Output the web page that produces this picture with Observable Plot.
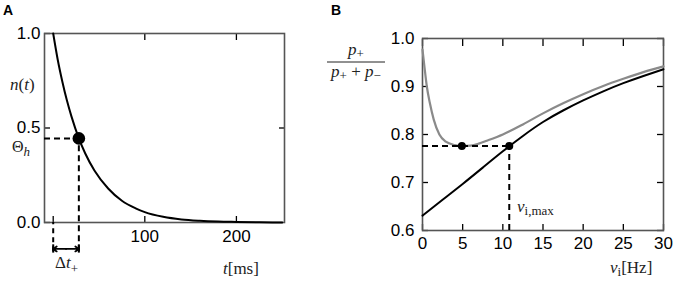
<!DOCTYPE html>
<html><head><meta charset="utf-8">
<script src="https://cdn.jsdelivr.net/npm/d3@7"></script>
<script src="https://cdn.jsdelivr.net/npm/@observablehq/plot@0.6"></script>
<style>
body{margin:0;background:#fff;}
#wrap{position:relative;width:673px;height:285px;overflow:hidden;background:#fff;}
#a{position:absolute;left:0;top:0;}
#b{position:absolute;left:320px;top:0;}
svg{overflow:visible;}
</style></head>
<body><div id="wrap"><div id="a"></div><div id="b"></div></div>
<script>
// ---------- Panel A data ----------
const tDomain = [-9.5, 252.5];
const tTicks = [0, 100, 200];
const nTicks = [0, 0.5, 1];
const tValues = [0, 5, 10, 15, 20, 28, 35, 45, 60, 75, 90, 100, 120, 140, 160, 180, 200, 225, 250];
const nValues = [1.0, 0.86, 0.745, 0.645, 0.56, 0.445, 0.365, 0.275, 0.18, 0.115, 0.075, 0.055, 0.030, 0.016, 0.009, 0.005, 0.003, 0.001, 0.0];
const thetaT = 28;      // Δt+
const thetaN = 0.445;   // Θh
const belowA = [-0.155, -0.14]; // dashed drop end, arrow level

// ---------- Panel B data ----------
const nuTicks = [0, 5, 10, 15, 20, 25, 30];
const pTicks = [0.6, 0.7, 0.8, 0.9, 1.0];
const nuGray = [0, 0.25, 0.54, 0.91, 1.4, 2.1, 2.9, 4, 4.9, 6, 7, 8, 10, 12.5, 15, 17.5, 20, 22.5, 25, 27.5, 30];
const pGray  = [0.977, 0.94, 0.90, 0.866, 0.831, 0.80, 0.785, 0.778, 0.776, 0.777, 0.781, 0.787, 0.800, 0.821, 0.844, 0.865, 0.884, 0.901, 0.916, 0.930, 0.942];
const nuBlack = [0, 2.5, 5, 7.5, 10, 12.5, 15, 17.5, 20, 22.5, 25, 27.5, 30];
const pBlack  = [0.631, 0.664, 0.697, 0.731, 0.765, 0.797, 0.826, 0.850, 0.871, 0.890, 0.907, 0.922, 0.936];
const nuMin = 4.9, nuMax = 10.8, pLevel = 0.776;

const curveA = tValues.map((t, i) => ({t, n: nValues[i]}));
const grayB = nuGray.map((x, i) => ({x, y: pGray[i]}));
const blackB = nuBlack.map((x, i) => ({x, y: pBlack[i]}));

const sans = "'Liberation Sans', Arial, Helvetica, sans-serif";
const serif = "'Liberation Serif', 'DejaVu Serif', serif";
const frameColor = "#555";
const dash = "6,4";
const fs = 17;

// ---------- Panel A ----------
const A = Plot.plot({
  width: 330, height: 285,
  marginLeft: 44, marginRight: 46, marginTop: 33, marginBottom: 63,
  x: {domain: tDomain},
  y: {domain: [0, 1]},
  style: {fontFamily: sans, fontSize: fs + "px", color: "#000", background: "transparent", overflow: "visible"},
  marks: [
    Plot.axisX({anchor: "bottom", ticks: tTicks, tickSize: -6, tickPadding: 13, label: null, fontSize: fs, tickFormat: d => d === 0 ? "" : d, strokeWidth: 1.3}),
    Plot.axisX({anchor: "top", ticks: tTicks.slice(1), tickSize: -6, label: null, tickFormat: () => "", strokeWidth: 1.3}),
    Plot.axisY({anchor: "left", ticks: nTicks, tickSize: -6, tickPadding: 10, label: null, fontSize: fs, tickFormat: d3.format(".1f"), strokeWidth: 1.3}),
    Plot.axisY({anchor: "right", ticks: [0.5], tickSize: -6, label: null, tickFormat: () => "", strokeWidth: 1.3}),
    Plot.frame({stroke: frameColor, strokeWidth: 1.6}),
    Plot.ruleY([thetaN], {x1: tDomain[0], x2: thetaT, stroke: "#000", strokeWidth: 2, strokeDasharray: dash}),
    Plot.ruleX([thetaT], {y1: belowA[0], y2: thetaN, stroke: "#000", strokeWidth: 2, strokeDasharray: dash}),
    Plot.ruleX([0], {y1: belowA[0], y2: 0, stroke: "#000", strokeWidth: 2, strokeDasharray: "5,4"}),
    Plot.ruleX([0, thetaT], {y1: belowA[1] - 0.022, y2: belowA[1] + 0.022, stroke: "#000", strokeWidth: 2}),
    Plot.arrow([{a: thetaT / 2, b: 0}, {a: thetaT / 2, b: thetaT}], {x1: "a", x2: "b", y1: belowA[1], y2: belowA[1], stroke: "#000", strokeWidth: 1.8, headLength: 7, headAngle: 70}),
    Plot.line(curveA, {x: "t", y: "n", curve: "monotone-x", stroke: "#000", strokeWidth: 2}),
    Plot.dot([{t: thetaT, n: thetaN}], {x: "t", y: "n", r: 6.3, fill: "#000", stroke: "none"})
  ]
});
document.getElementById("a").appendChild(A);

// ---------- Panel B ----------
const B = Plot.plot({
  width: 353, height: 285,
  marginLeft: 102, marginRight: 10, marginTop: 38, marginBottom: 55,
  x: {domain: [0, 30]},
  y: {domain: [0.6, 1.0]},
  style: {fontFamily: sans, fontSize: fs + "px", color: "#000", background: "transparent", overflow: "visible"},
  marks: [
    Plot.axisX({anchor: "bottom", ticks: nuTicks, tickSize: -6, tickPadding: 12, label: null, fontSize: fs, strokeWidth: 1.3}),
    Plot.axisX({anchor: "top", ticks: nuTicks, tickSize: -7, label: null, tickFormat: () => "", strokeWidth: 1.3}),
    Plot.axisY({anchor: "left", ticks: pTicks, tickSize: -6, tickPadding: 14, label: null, fontSize: fs, tickFormat: d3.format(".1f"), strokeWidth: 1.3}),
    Plot.axisY({anchor: "right", ticks: pTicks, tickSize: -7, label: null, tickFormat: () => "", strokeWidth: 1.3}),
    Plot.frame({stroke: frameColor, strokeWidth: 1.6}),
    Plot.line(grayB, {x: "x", y: "y", curve: "monotone-x", stroke: "#8a8a8a", strokeWidth: 2.2}),
    Plot.line(blackB, {x: "x", y: "y", curve: "natural", stroke: "#000", strokeWidth: 2}),
    Plot.ruleY([pLevel], {x1: 0, x2: nuMax, stroke: "#000", strokeWidth: 2, strokeDasharray: dash}),
    Plot.ruleX([nuMax], {y1: 0.6, y2: pLevel, stroke: "#000", strokeWidth: 2, strokeDasharray: dash}),
    Plot.dot([{x: nuMin, y: pLevel}, {x: nuMax, y: pLevel}], {x: "x", y: "y", r: 4, fill: "#000", stroke: "none"})
  ]
});
document.getElementById("b").appendChild(B);

// ---------- Text annotations (real text) ----------
function mathText(svg, x, y, parts, anchor = "start", size = 17) {
  const t = d3.select(svg).append("text")
    .attr("x", x).attr("y", y).attr("text-anchor", anchor)
    .attr("font-family", serif).attr("font-size", size).attr("fill", "#222");
  for (const p of parts) {
    const s = t.append("tspan").text(p.s);
    if (p.i) s.attr("font-style", "italic");
    if (p.sub) s.attr("font-size", 13).attr("dy", p.dy ?? 4);
    if (p.up) s.attr("dy", p.up);
  }
  return t;
}
function bold(svg, x, y, s) {
  d3.select(svg).append("text").attr("x", x).attr("y", y).attr("text-anchor", "start")
    .attr("font-family", sans).attr("font-weight", "bold").attr("font-size", 14).text(s);
}

bold(A, 3, 15, "A");
mathText(A, 10, 90, [{s: "n", i: 1}, {s: "("}, {s: "t", i: 1}, {s: ")"}]);
mathText(A, 12, 152, [{s: "Θ"}, {s: "h", i: 1, sub: 1, dy: 4}], "start", 16);
mathText(A, 55, 268, [{s: "Δ"}, {s: "t", i: 1}, {s: "+", sub: 1, dy: 5}]);
mathText(A, 223, 274, [{s: "t", i: 1}, {s: "[ms]"}]);

bold(B, 11, 15, "B");
mathText(B, 36, 55, [{s: "p", i: 1}, {s: "+", sub: 1, dy: 3}], "middle");
d3.select(B).append("line").attr("x1", 7).attr("x2", 65).attr("y1", 62).attr("y2", 62)
  .attr("stroke", "#222").attr("stroke-width", 1);
mathText(B, 36, 77, [{s: "p", i: 1}, {s: "+", sub: 1, dy: 3}, {s: " + ", up: -3}, {s: "p", i: 1}, {s: "−", sub: 1, dy: 3}], "middle");
mathText(B, 197, 212, [{s: "ν", i: 1}, {s: "i,max", sub: 1, dy: 3}]);
mathText(B, 290, 273, [{s: "ν", i: 1}, {s: "i", sub: 1, dy: 3}, {s: "[Hz]", up: -3}]);
</script>
</body></html>
